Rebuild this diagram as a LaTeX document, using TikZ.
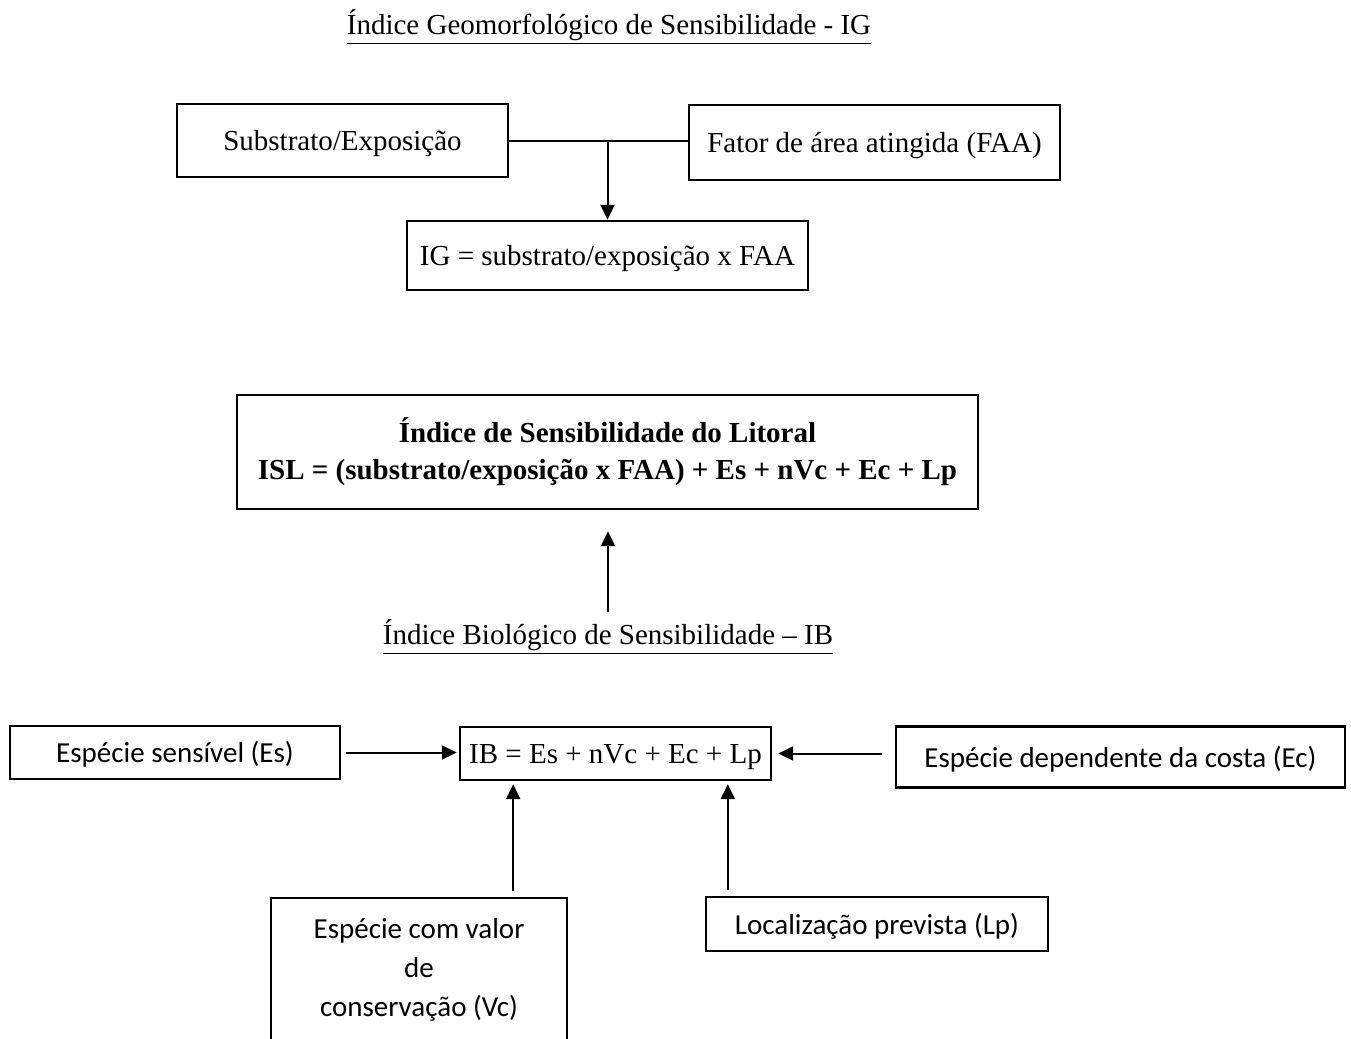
\documentclass[tikz,border=0pt]{standalone}
\usepackage{fontspec}
\setmainfont{Liberation Serif}
\newfontfamily\calibri{Carlito}
\usetikzlibrary{
  arrows.meta}

\begin{document}
\begin{tikzpicture}[x=0.5pt,y=-0.5pt]
\tikzset{
  txt/.style={font=\fontsize{14.5}{18.5}\selectfont},
  box/.style={txt, draw, line width=1.2pt, inner sep=0pt},
  one/.style={text height=11.5pt, text depth=1.5pt},
  sans/.style={font=\calibri\fontsize{14.5}{19.5}\selectfont},
  arr/.style={line width=1pt, -{Triangle[length=7.5pt,width=7pt]}},
}
\useasboundingbox (0,0) rectangle (1351,1039);
% geomorphological index
\node[txt] (titleig) at (609,27) {\underline{Índice Geomorfológico de Sensibilidade - IG}};
\node[box, one, minimum width=165.5pt, minimum height=36.5pt] (sub) at (342.5,140.5) {Substrato/Exposição};
\node[box, one, minimum width=185.5pt, minimum height=37.5pt] (faa) at (874.5,142.5) {Fator de área atingida (FAA)};
\node[box, one, minimum width=200.5pt, minimum height=34.5pt] (ig) at (607.5,255.5) {IG = substrato/exposição x FAA};
\draw[line width=1pt] (sub.east) -- (sub.east -| faa.west);
\draw[arr] (sub.east -| ig.north) -- (ig.north);
% shoreline index
\node[box, align=center, font=\bfseries\fontsize{14.5}{18.5}\selectfont,
  minimum width=370.5pt, minimum height=57pt] (isl) at (607.5,452)
  {Índice de Sensibilidade do Litoral\\ISL = (substrato/exposição x FAA) + Es + nVc + Ec + Lp};
\node[txt] (titleib) at (608,637) {\underline{Índice Biológico de Sensibilidade – IB}};
\draw[arr, shorten >=10.5pt] (titleib.north) -- (titleib.north |- isl.south);
% biological index
\node[box, one, minimum width=155.5pt, minimum height=26.5pt] (ib) at (615.5,753.5) {IB = Es + nVc + Ec + Lp};
\node[box, one, sans, minimum width=165pt, minimum height=26.5pt] (es) at (175,752.5) {Espécie sensível (Es)};
\node[box, one, sans, minimum width=224.5pt, minimum height=30.5pt] (ec) at (1120.5,757) {Espécie dependente da costa (Ec)};
\node[box, one, sans, minimum width=171pt, minimum height=27pt] (lp) at (877,924) {Localização prevista (Lp)};
\node[box, sans, anchor=north, minimum width=148pt, text height=20pt, text depth=75pt] (vc) at (419,897)
  {\begin{tabular}[t]{c}Espécie com valor\\de\\conservação (Vc)\end{tabular}};
\draw[arr, shorten <=2.5pt, shorten >=1pt] (es.east) -- (es.east -| ib.west);
\draw[arr, shorten <=6.5pt, shorten >=3pt] (ec.west |- ib.east) -- (ib.east);
\draw[arr, shorten <=3pt, shorten >=1.5pt] ([xshift=-27.5pt]vc.north east) -- ([xshift=-27.5pt]vc.north east |- ib.south);
\draw[arr, shorten <=3pt, shorten >=1.5pt] ([xshift=11.5pt]lp.north west) -- ([xshift=11.5pt]lp.north west |- ib.south);
\end{tikzpicture}
\end{document}
